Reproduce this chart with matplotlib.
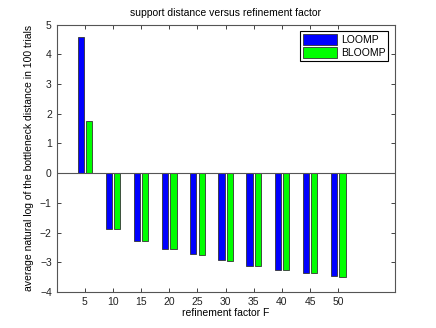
import numpy as np
import matplotlib
matplotlib.use('Agg')
import matplotlib.pyplot as plt

plt.rcParams['font.family'] = ['Liberation Sans', 'DejaVu Sans']
plt.rcParams['font.size'] = 7.5

factors = [5, 10, 15, 20, 25, 30, 35, 40, 45, 50]
loomp = [4.57, -1.87, -2.27, -2.54, -2.74, -2.94, -3.13, -3.26, -3.35, -3.48]
bloomp = [1.75, -1.87, -2.28, -2.55, -2.75, -2.95, -3.14, -3.27, -3.36, -3.49]

x = np.array(factors, dtype=float)
w = 1.1
off = 0.75

fig = plt.figure(figsize=(4.36, 3.28), dpi=100)
ax = fig.add_axes([0.13, 0.11, 0.775, 0.815])

ax.bar(x - off, loomp, w, color=(0, 0, 1), edgecolor='#333333', linewidth=0.6, label='LOOMP')
ax.bar(x + off, bloomp, w, color=(0, 1, 0), edgecolor='#333333', linewidth=0.6, label='BLOOMP')
ax.axhline(0, color='#555555', linewidth=0.8, zorder=3)

ax.set_xlim(0, 60)
ax.set_ylim(-4, 5)
ax.set_xticks(factors)
ax.set_yticks(range(-4, 6))
ax.set_yticklabels([str(v).replace('-', '\u2212') for v in range(-4, 6)])
ax.tick_params(direction='in', top=True, right=True, length=3, width=0.6, colors='#222222')
for s in ax.spines.values():
    s.set_color('#555555')
    s.set_linewidth(0.8)

ax.set_title('support distance versus refinement factor', fontsize=7.5, pad=6)
ax.set_xlabel('refinement factor F', labelpad=1)
ax.set_ylabel('average natural log of the bottleneck distance in 100 trials', labelpad=4)

leg = ax.legend(loc='upper right', fancybox=False, framealpha=1, edgecolor='black',
                handlelength=3.2, handleheight=1.2, borderpad=0.3, labelspacing=0.2,
                handletextpad=0.4, borderaxespad=0.6)
leg.get_frame().set_linewidth(0.8)

plt.savefig('out.png', dpi=100)
